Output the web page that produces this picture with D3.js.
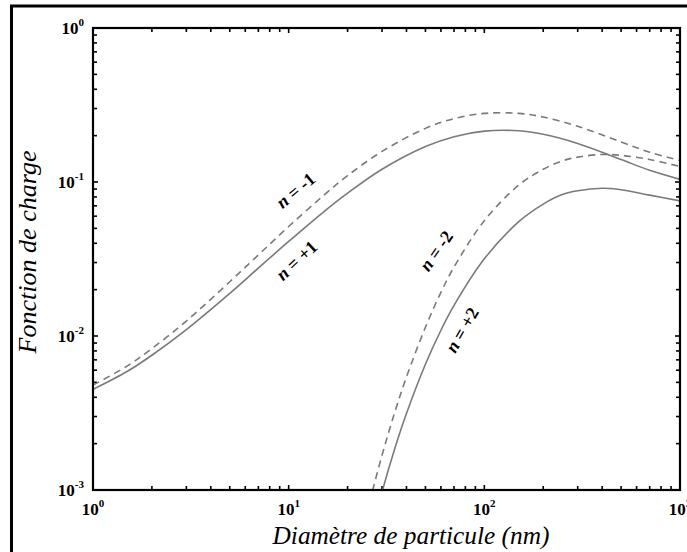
<!DOCTYPE html>
<html><head><meta charset="utf-8">
<script src="https://cdn.jsdelivr.net/npm/d3@7"></script>
<style>body{margin:0;background:#fff;overflow:hidden}</style>
</head><body><svg id="c" width="687" height="552"></svg>
<script>
// ---- data ----
const diam = [1,1.5,2,3,5,7,10,15,20,30,50,70,100,150,200,300,500,700,1000];
const nPlus1  = [0.0045,0.0059,0.0075,0.011,0.0189,0.0276,0.0411,0.0636,0.0846,0.121,0.170,0.197,0.214,0.215,0.204,0.178,0.140,0.119,0.104];
const nMinus1 = [0.0048,0.0064,0.0083,0.0125,0.0225,0.0336,0.0514,0.0813,0.110,0.158,0.223,0.258,0.279,0.279,0.264,0.230,0.182,0.156,0.138];
const diam2 = [25,30,35,40,50,60,70,100,150,200,250,300,400,500,700,1000];
const nMinus2 = [0.0007,0.00168,0.00325,0.00542,0.0114,0.0192,0.028,0.0561,0.0954,0.121,0.137,0.145,0.151,0.149,0.140,0.126];
const nPlus2  = [0.00039,0.00097,0.00189,0.00314,0.00655,0.0109,0.0158,0.0317,0.0553,0.0719,0.0829,0.0878,0.0911,0.0891,0.0822,0.0754];
const xTickValues = [1,10,100,1000];
const xTickExp = ["0","1","2","3"];
const yTickValues = [0.001,0.01,0.1,1];
const yTickExp = ["-3","-2","-1","0"];
const seriesNames = ["n = -1","n = +1","n = -2","n = +2"];
const xTitle = "Diamètre de particule (nm)";
const yTitle = "Fonction de charge";

// ---- layout ----
const L = 93, R = 680, T = 28, B = 490;
const svg = d3.select("#c");
const x = d3.scaleLog().domain([1,1000]).range([L,R]);
const y = d3.scaleLog().domain([0.001,1]).range([B,T]);
const tf = "'Liberation Serif', 'Times New Roman', serif";

// outer frame (extends beyond right and bottom edges)
svg.append("rect").attr("x",11.5).attr("y",6).attr("width",700).attr("height",580)
  .attr("fill","none").attr("stroke","#000").attr("stroke-width",3);

svg.append("clipPath").attr("id","clip").append("rect")
  .attr("x",L).attr("y",T).attr("width",R-L).attr("height",B-T);

// minor tick values
const minor = (lo,hi)=>{const a=[];for(let e=lo;e<hi;e++)for(let k=2;k<=9;k++)a.push(k*Math.pow(10,e));return a;};
const xMinor = minor(0,3), yMinor = minor(-3,0);

const tk = svg.append("g").attr("stroke","#000").attr("stroke-width",1.6);
xTickValues.concat(xMinor).forEach(v=>{
  const len = xTickValues.includes(v)?5:4;
  tk.append("line").attr("x1",x(v)).attr("x2",x(v)).attr("y1",B).attr("y2",B-len);
  tk.append("line").attr("x1",x(v)).attr("x2",x(v)).attr("y1",T).attr("y2",T+len);
});
yTickValues.concat(yMinor).forEach(v=>{
  const len = yTickValues.includes(v)?5:4;
  tk.append("line").attr("y1",y(v)).attr("y2",y(v)).attr("x1",L).attr("x2",L+len);
  tk.append("line").attr("y1",y(v)).attr("y2",y(v)).attr("x1",R).attr("x2",R-len);
});

// curves
const line = d3.line().x(d=>x(d[0])).y(d=>y(d[1])).curve(d3.curveCatmullRom.alpha(0.5));
const series = [
  {xs:diam,  ys:nMinus1, dash:"7,5"},
  {xs:diam,  ys:nPlus1,  dash:null},
  {xs:diam2, ys:nMinus2, dash:"7,5"},
  {xs:diam2, ys:nPlus2,  dash:null}
];
const cg = svg.append("g").attr("clip-path","url(#clip)");
series.forEach(s=>{
  cg.append("path").datum(s.xs.map((d,i)=>[d,s.ys[i]])).attr("d",line)
    .attr("fill","none").attr("stroke","#7a7a7a").attr("stroke-width",1.6)
    .attr("stroke-dasharray",s.dash);
});

// frame of the axes
svg.append("rect").attr("x",L).attr("y",T).attr("width",R-L).attr("height",B-T)
  .attr("fill","none").attr("stroke","#000").attr("stroke-width",2.2);

// tick labels
xTickValues.forEach((v,i)=>{
  const t = svg.append("text").attr("x",x(v)).attr("y",B+25).attr("text-anchor","middle")
    .attr("font-family",tf).attr("font-weight","bold").attr("font-size",17);
  t.append("tspan").text("10");
  t.append("tspan").attr("dy",-8).attr("font-size",11).text(xTickExp[i]);
});
yTickValues.forEach((v,i)=>{
  const t = svg.append("text").attr("x",L-9).attr("y",y(v)+6).attr("text-anchor","end")
    .attr("font-family",tf).attr("font-weight","bold").attr("font-size",17);
  t.append("tspan").text("10");
  t.append("tspan").attr("dy",-8).attr("font-size",11).text(yTickExp[i]);
});

// axis titles, sized to the reference's width
function fitText(sel, w){ sel.attr("font-size",20); const l=sel.node().getComputedTextLength(); sel.attr("font-size",20*w/l); }
const xt = svg.append("text").attr("x",411).attr("y",544).attr("text-anchor","middle")
  .attr("font-family",tf).attr("font-style","italic").text(xTitle);
fitText(xt,277);
const yt = svg.append("text").attr("transform",`translate(36,252) rotate(-90)`).attr("text-anchor","middle")
  .attr("font-family",tf).attr("font-style","italic").text(yTitle);
fitText(yt,203);

// curve labels
const labelPos = [[297,192,-40],[298,262,-43],[438,252,-55],[464,331,-60]];
seriesNames.forEach((nm,i)=>{
  const [lx,ly,rot]=labelPos[i];
  const t = svg.append("text").attr("transform",`translate(${lx},${ly}) rotate(${rot})`)
    .attr("text-anchor","middle").attr("dominant-baseline","middle")
    .attr("font-family",tf).attr("font-weight","bold").attr("font-size",18);
  t.append("tspan").attr("font-style","italic").text(nm.slice(0,1));
  t.append("tspan").text(nm.slice(1));
});
</script></body></html>
